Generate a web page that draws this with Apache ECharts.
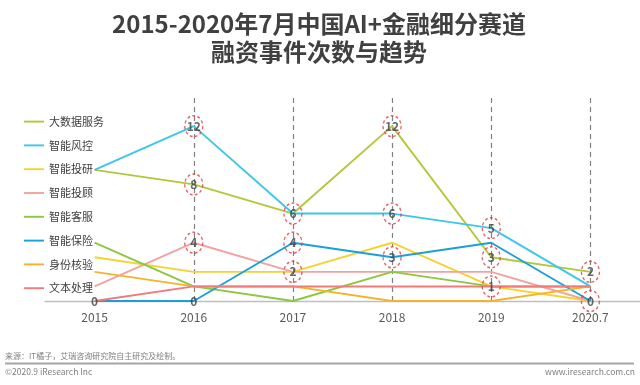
<!DOCTYPE html>
<html>
<head>
<meta charset="utf-8">
<script src="https://cdn.jsdelivr.net/npm/echarts@6/dist/echarts.min.js"></script>
<style>html,body{margin:0;padding:0;background:#fff;}#c{width:640px;height:385px;}</style>
</head>
<body>
<div id="c"></div>
<script>
var categories = ['2015', '2016', '2017', '2018', '2019', '2020.7'];
var seriesNames = ['大数据服务', '智能风控', '智能投研', '智能投顾', '智能客服', '智能保险', '身份核验', '文本处理'];
var bigData     = [9, 8, 6, 12, 3, 2];
var riskControl = [9, 12, 6, 6, 5, 1];
var investRes   = [3, 2, 2, 4, 1, 0];
var roboAdvisor = [1, 4, 2, 2, 2, 0];
var customerSvc = [4, 1, 0, 2, 1, 1];
var insurance   = [0, 0, 4, 3, 4, 0];
var identity    = [2, 1, 1, 0, 0, 1];
var textProc    = [0, 1, 1, 1, 1, 1];
var seriesValues = [bigData, riskControl, investRes, roboAdvisor, customerSvc, insurance, identity, textProc];
var colors = ['#b2c83a', '#3cc6e8', '#f5d232', '#f2a3a1', '#8dc640', '#1aa0d8', '#f2b42c', '#f27a78'];
var dashedCats = ['2016', '2017', '2018', '2019', '2020.7'];
var circledLabels = [['2016', 12], ['2016', 8], ['2016', 4], ['2017', 6], ['2017', 4], ['2017', 2],
  ['2018', 12], ['2018', 6], ['2018', 3], ['2019', 5], ['2019', 3], ['2019', 1], ['2020.7', 2], ['2020.7', 0]];
var plainLabels = [['2015', 0], ['2016', 0]];
var yTicks = [0, 14];

var chart = echarts.init(document.getElementById('c'));
var FONT = '"Noto Sans CJK SC", "Noto Sans", sans-serif';

var series = seriesNames.map(function (name, i) {
  var s = {
    name: name, type: 'line', data: seriesValues[i], symbol: 'none',
    lineStyle: { color: colors[i], width: 1.9 }, itemStyle: { color: colors[i] },
    z: 3
  };
  if (i === 0) {
    s.markLine = {
      silent: true, symbol: 'none', label: { show: false },
      lineStyle: { color: '#808080', type: [5, 4], width: 1.2 },
      data: dashedCats.map(function (c) { return { xAxis: c }; }),
      z: 1
    };
  }
  return s;
});
series.push({
  type: 'scatter', data: circledLabels, symbol: 'circle', symbolSize: [18, 21], z: 5,
  itemStyle: { color: 'rgba(255,255,255,0)', borderColor: '#e5383d', borderType: [3, 2.5], borderWidth: 1.4 },
  label: { show: true, position: 'inside', formatter: function (p) { return p.value[1]; },
    color: '#404040', fontSize: 12, fontWeight: 'bold', fontFamily: FONT },
  silent: true
});
series.push({
  type: 'scatter', data: plainLabels, symbolSize: 1, z: 5,
  itemStyle: { color: 'rgba(255,255,255,0)' },
  label: { show: true, position: 'inside', formatter: function (p) { return p.value[1]; },
    color: '#404040', fontSize: 12, fontWeight: 'bold', fontFamily: FONT },
  silent: true
});

chart.setOption({
  backgroundColor: '#ffffff',
  animation: false,
  title: {
    text: '2015-2020年7月中国AI+金融细分赛道\n融资事件次数与趋势',
    left: 314, top: 5, textAlign: 'center',
    textStyle: { fontSize: 24, fontWeight: 'bold', color: '#404040', lineHeight: 28, fontFamily: FONT }
  },
  legend: {
    data: seriesNames, orient: 'vertical', left: 23, top: 116, padding: 0,
    itemWidth: 20, itemHeight: 14, itemGap: 12.6,
    itemStyle: { opacity: 0 },
    lineStyle: { width: 1.9 },
    textStyle: { fontSize: 11, color: '#404040', fontFamily: FONT }
  },
  grid: { left: 45, width: 598, top: 97, height: 204 },
  xAxis: {
    type: 'category', data: categories, boundaryGap: true,
    axisLine: { lineStyle: { color: '#bfbfbf', width: 1.3 } },
    axisTick: { show: false },
    axisLabel: { color: '#595959', fontSize: 12, margin: 10, fontFamily: FONT }
  },
  yAxis: {
    type: 'value', min: yTicks[0], max: yTicks[1], show: false
  },
  series: series,
  graphic: [
    { type: 'text', left: 5, top: 352, style: { text: '来源：IT橘子，艾瑞咨询研究院自主研究及绘制。', fontSize: 8, fill: '#808080', fontFamily: FONT } },
    { type: 'line', shape: { x1: 5, y1: 363.5, x2: 634, y2: 363.5 }, style: { stroke: '#a6a6a6', lineWidth: 2 } },
    { type: 'text', left: 5, top: 368, style: { text: '©2020.9 iResearch Inc', fontSize: 8.5, fill: '#808080', fontFamily: FONT } },
    { type: 'text', right: 5, top: 368, style: { text: 'www.iresearch.com.cn', fontSize: 8.5, fill: '#808080', fontFamily: FONT } }
  ]
});
</script>
</body>
</html>
